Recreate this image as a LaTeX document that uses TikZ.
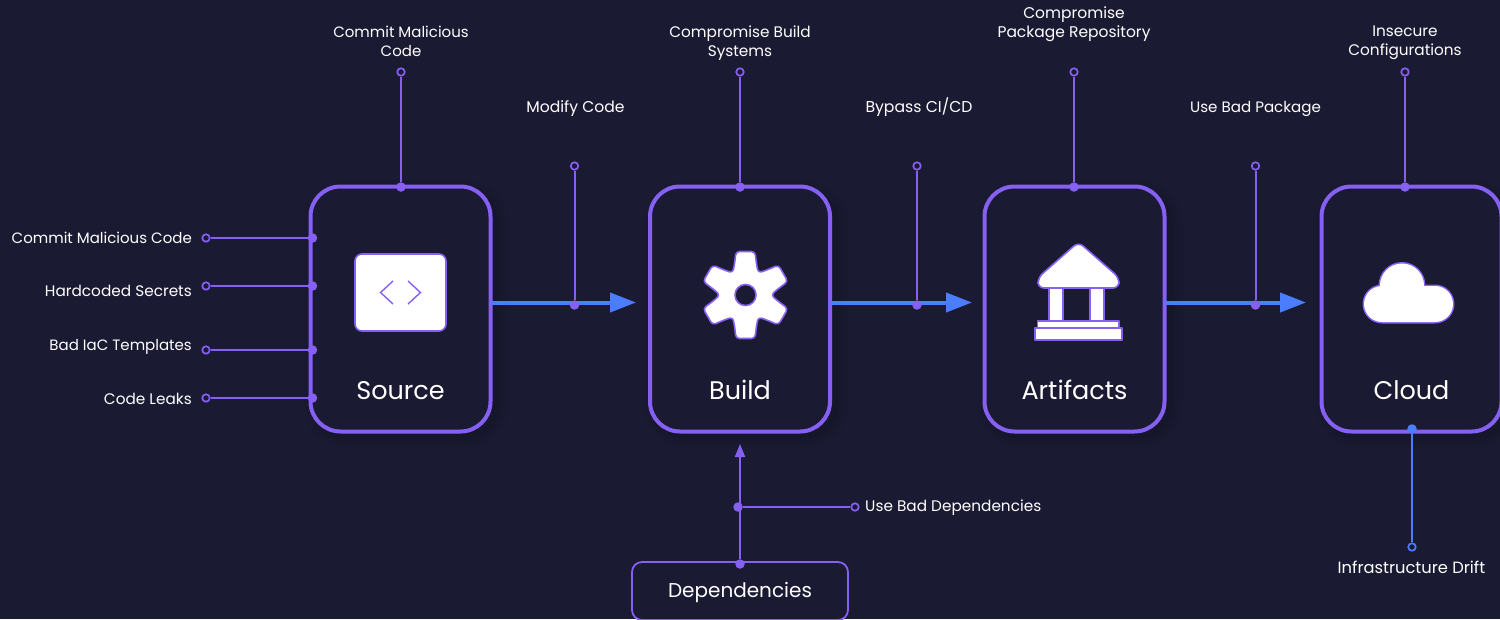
\documentclass[tikz,border=0pt]{standalone}
\usepackage{fontspec}
\setmainfont{Poppins}
\usetikzlibrary{arrows.meta}
\definecolor{bgc}{HTML}{1A1A33}
\definecolor{pur}{HTML}{8560F2}
\definecolor{blu}{HTML}{4A7DFF}
\newcommand\lstrut{\rule[-4pt]{0pt}{14pt}}
\tikzset{
 stagebox/.style={draw=pur,line width=4pt,rounded corners=30pt,minimum width=180pt,minimum height=245pt,inner sep=0pt,fill=bgc},
 stagetext/.style={text=white,font=\fontsize{25.5}{30}\selectfont,inner sep=0pt},
 lbl/.style={text=white,font=\fontsize{15.3}{19}\selectfont,align=center,inner sep=0pt},
 lblsize/.style={font=\fontsize{#1}{19}\selectfont},
 pinopen/.style={circle,draw=pur,line width=1.7pt,fill=bgc,minimum size=7.5pt,inner sep=0pt},
 pindot/.style={circle,fill=pur,minimum size=9.5pt,inner sep=0pt},
 thinline/.style={draw=pur,line width=2pt},
 flow/.style={draw=blu,line width=4pt,-{Triangle[length=26pt,width=19pt]},shorten >=0pt},
 iconline/.style={draw=pur,line width=1.6pt,fill=white,line join=round},
 softshadow/.style={draw=black,opacity=.03,rounded corners=30pt}
}
\begin{document}
\begin{tikzpicture}[x=1pt,y=-1pt]
\useasboundingbox (0,0) rectangle (1500,619);
\clip (0,0) rectangle (1500,619);
\fill[bgc] (0,0) rectangle (1500,619);
% soft shadows
\foreach \xa in {310,650,984,1321}{
 \foreach \w in {6,12,18,24}{
  \draw[softshadow,line width=\w pt] (\xa+6,192) rectangle (\xa+186,436);
 }
}
% stage boxes
\node[stagebox] (source) at (400.5,309) {};
\node[stagebox] (build) at (740,309) {};
\node[stagebox] (artifacts) at (1074.5,309) {};
\node[stagebox] (cloud) at (1411.5,309) {};
\node[stagetext] (sourcet) at (400.5,390.5) {Source};
\node[stagetext] (buildt) at (740,390) {Build};
\node[stagetext] (artifactst) at (1074.5,390) {Artifacts};
\node[stagetext] (cloudt) at (1411.5,390) {Cloud};
% dependencies
\node[draw=pur,line width=1.8pt,rounded corners=10pt,minimum width=216pt,minimum height=58pt,inner sep=0pt] (deps) at (740,591) {};
\node[stagetext,font=\fontsize{20}{24}\selectfont] (depst) at (740,592.5) {Dependencies};
% flow arrows
\coordinate (fa1) at (491,302.5); \coordinate (fb1) at (636,302.5);
\coordinate (fa2) at (830,302.5); \coordinate (fb2) at (972,302.5);
\coordinate (fa3) at (1165,302.5); \coordinate (fb3) at (1306,302.5);
\draw[flow] (fa1) -- (fb1);
\draw[flow] (fa2) -- (fb2);
\draw[flow] (fa3) -- (fb3);
% left pins
\node[pinopen] (l1o) at (206,238) {}; \node[pindot] (l1d) at (312.5,238) {};
\node[pinopen] (l2o) at (206,286) {}; \node[pindot] (l2d) at (312.5,286) {};
\node[pinopen] (l3o) at (206,350) {}; \node[pindot] (l3d) at (312.5,350) {};
\node[pinopen] (l4o) at (206,398) {}; \node[pindot] (l4d) at (312.5,398) {};
\foreach \n in {1,2,3,4}{\draw[thinline] (l\n o) -- (l\n d);}
\node[lbl,lblsize=15,anchor=east] (l1t) at (192,240) {\lstrut Commit Malicious Code};
\node[lbl,anchor=east] (l2t) at (192,293) {\lstrut Hardcoded Secrets};
\node[lbl,lblsize=15,anchor=east] (l3t) at (192,347) {\lstrut Bad IaC Templates};
\node[lbl,anchor=east] (l4t) at (192,401) {\lstrut Code Leaks};
% top pins
\node[pinopen] (t1o) at (401,72) {}; \node[pindot] (t1d) at (401,187) {};
\node[pinopen] (t2o) at (740,72) {}; \node[pindot] (t2d) at (740,187) {};
\node[pinopen] (t3o) at (1074,72) {}; \node[pindot] (t3d) at (1074,187) {};
\node[pinopen] (t4o) at (1405,72) {}; \node[pindot] (t4d) at (1405,187) {};
\foreach \n in {1,2,3,4}{\draw[thinline] (t\n o) -- (t\n d);}
\node[lbl,lblsize=15] (t1t) at (401,43) {\lstrut Commit Malicious\\\lstrut Code};
\node[lbl] (t2t) at (740,43) {\lstrut Compromise Build\\\lstrut Systems};
\node[lbl,lblsize=15.5] (t3t) at (1074,24) {\lstrut Compromise\\\lstrut Package Repository};
\node[lbl] (t4t) at (1405,43) {\lstrut Insecure\\\lstrut Configurations};
% mid pins
\node[pinopen] (m1o) at (574.5,166) {}; \node[pindot] (m1d) at (574.5,305) {};
\node[pinopen] (m2o) at (917,166) {}; \node[pindot] (m2d) at (917,305) {};
\node[pinopen] (m3o) at (1255.5,166) {}; \node[pindot] (m3d) at (1255.5,305) {};
\foreach \n in {1,2,3}{\draw[thinline] (m\n o) -- (m\n d);}
\node[lbl,lblsize=15.6] (m1t) at (575.5,109) {\lstrut Modify Code};
\node[lbl,lblsize=15.7] (m2t) at (919,107) {\lstrut Bypass CI/CD};
\node[lbl,lblsize=15.1] (m3t) at (1255.5,109) {\lstrut Use Bad Package};
% cloud drift
\node[pinopen,draw=blu] (co) at (1412,547) {};
\node[pindot,fill=blu] (cd) at (1412,429) {};
\draw[thinline,draw=blu] (cd) -- (co);
\node[lbl,lblsize=16.3] (ct) at (1411.5,569) {\lstrut Infrastructure Drift};
% dependency arrow
\node[pindot] (dd) at (740,564) {};
\coordinate (dtip) at (740,444);
\draw[draw=pur,line width=2pt,-{Triangle[length=13pt,width=10pt]}] (dd) -- (dtip);
\node[pindot] (dj) at (738,507) {};
\node[pinopen] (djo) at (855,507) {};
\draw[thinline] (dj) -- (djo);
\node[lbl,anchor=west] (djt) at (865,508) {\lstrut Use Bad Dependencies};
% code icon
\draw[iconline,rounded corners=7pt] (355,254) rectangle (446,331);
\draw[pur,line width=1.4pt] (393,281) -- (380.5,292.5) -- (393,304);
\draw[pur,line width=1.4pt] (408,281) -- (420.5,292.5) -- (408,304);
% gear icon
\begin{scope}[shift={(745.5,295)}]
\draw[iconline,rounded corners=3.5pt] ([rotate=90]31,11) -- ([rotate=90]43.5,9.5) -- ([rotate=90]43.5,-9.5) -- ([rotate=90]31,-11) -- ([rotate=120]25.5,0)
 -- ([rotate=150]31,11) -- ([rotate=150]43.5,9.5) -- ([rotate=150]43.5,-9.5) -- ([rotate=150]31,-11) -- ([rotate=180]25.5,0)
 -- ([rotate=210]31,11) -- ([rotate=210]43.5,9.5) -- ([rotate=210]43.5,-9.5) -- ([rotate=210]31,-11) -- ([rotate=240]25.5,0)
 -- ([rotate=270]31,11) -- ([rotate=270]43.5,9.5) -- ([rotate=270]43.5,-9.5) -- ([rotate=270]31,-11) -- ([rotate=300]25.5,0)
 -- ([rotate=330]31,11) -- ([rotate=330]43.5,9.5) -- ([rotate=330]43.5,-9.5) -- ([rotate=330]31,-11) -- ([rotate=0]25.5,0)
 -- ([rotate=30]31,11) -- ([rotate=30]43.5,9.5) -- ([rotate=30]43.5,-9.5) -- ([rotate=30]31,-11) -- ([rotate=60]25.5,0) -- cycle;
\draw[pur,line width=1.6pt,fill=bgc] (0,0) circle (10.5pt);
\end{scope}
% temple icon
\draw[iconline] (1049,286) rectangle (1063,321);
\draw[iconline] (1090,286) rectangle (1104,321);
\draw[iconline] (1037.5,321) rectangle (1119,328);
\draw[iconline] (1035,328) rectangle (1122,340);
\draw[iconline,rounded corners=6pt] (1078.5,242) -- (1119,277.5) -- (1119,288) -- (1038,288) -- (1038,277.5) -- cycle;
% cloud icon
\draw[pur,line width=3pt,rounded corners=18pt] (1364,286) rectangle (1453,322);
\draw[pur,line width=3pt] (1402,285.5) circle (22pt);
\fill[white,rounded corners=18pt] (1364,286) rectangle (1453,322);
\fill[white] (1402,285.5) circle (22pt);
\end{tikzpicture}
\end{document}
